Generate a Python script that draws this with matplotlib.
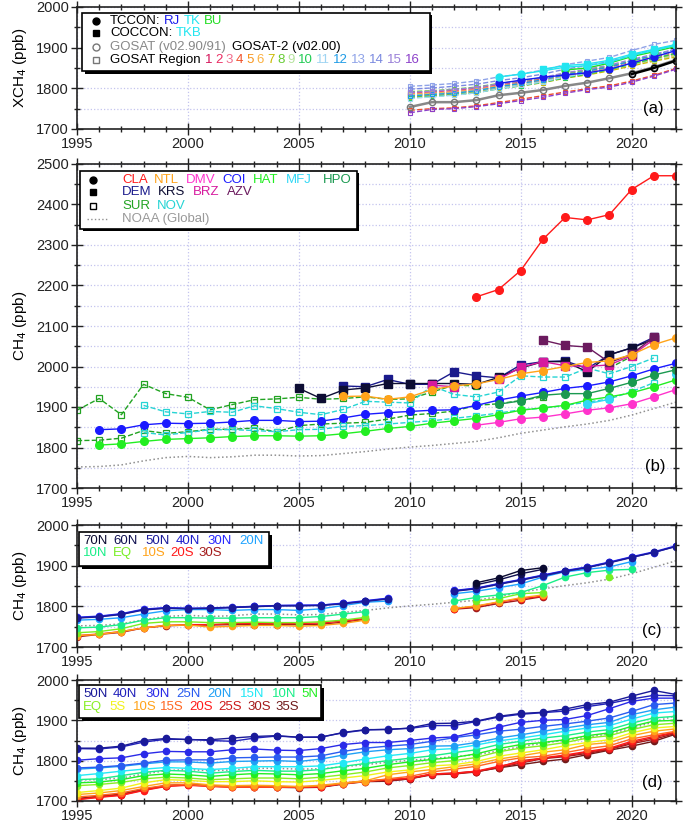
import numpy as np
import matplotlib
matplotlib.use("Agg")
import matplotlib.pyplot as plt
from matplotlib.patches import Rectangle
from matplotlib.lines import Line2D
from matplotlib.ticker import MultipleLocator

plt.rcParams['font.family'] = ['Liberation Sans', 'DejaVu Sans']

n = np.nan
years = np.arange(1995, 2023)
years_a = np.arange(2010, 2023)

# ---------------- panel (a): XCH4 ----------------
gosat   = [1754, 1766, 1766, 1771, 1783, 1789, 1796, 1806, 1814, 1825, 1837, 1852, 1870]
gosat2  = [n, n, n, n, n, n, n, n, n, n, 1835, 1850, 1868]
tc_rj   = [n, n, n, n, 1812, 1820, 1827, 1833, 1838, 1847, 1862, 1877, 1893]
tc_tk   = [n, n, n, n, 1828, 1835, 1843, 1852, 1856, 1864, 1881, 1893, 1906]
tc_bu   = [n, n, n, n, n, n, n, 1845, 1850, 1862, 1878, 1890, 1903]
co_tkb  = [n, n, n, n, n, n, 1847, 1856, 1860, 1869, 1884, 1896, 1908]

reg_vals = [
    [1784, 1787, 1790, 1795, 1805, 1811, 1819, 1830, 1838, 1848, 1860, 1872, 1884],
    [1789, 1791, 1795, 1800, 1809, 1815, 1823, 1834, 1842, 1852, 1864, 1877, 1888],
    [1786, 1789, 1792, 1798, 1807, 1813, 1821, 1832, 1840, 1850, 1862, 1875, 1886],
    [1746, 1750, 1752, 1757, 1765, 1773, 1782, 1791, 1799, 1806, 1818, 1832, 1849],
    [1781, 1784, 1788, 1792, 1802, 1808, 1816, 1827, 1835, 1845, 1857, 1869, 1880],
    [1785, 1788, 1791, 1796, 1806, 1812, 1820, 1831, 1839, 1849, 1861, 1873, 1883],
    [1779, 1782, 1786, 1790, 1800, 1806, 1814, 1825, 1833, 1843, 1855, 1867, 1877],
    [1792, 1794, 1798, 1803, 1812, 1818, 1826, 1837, 1845, 1855, 1867, 1880, 1891],
    [1783, 1786, 1789, 1794, 1803, 1809, 1817, 1828, 1836, 1846, 1858, 1870, 1881],
    [1777, 1780, 1784, 1789, 1799, 1806, 1815, 1826, 1835, 1846, 1860, 1873, 1886],
    [1775, 1779, 1783, 1789, 1799, 1807, 1816, 1828, 1837, 1848, 1863, 1877, 1891],
    [1781, 1785, 1788, 1794, 1804, 1812, 1821, 1833, 1842, 1853, 1868, 1882, 1896],
    [1805, 1808, 1812, 1818, 1828, 1835, 1845, 1858, 1867, 1876, 1893, 1908, 1918],
    [1798, 1801, 1805, 1810, 1819, 1826, 1835, 1847, 1856, 1866, 1881, 1895, 1906],
    [1790, 1793, 1797, 1802, 1811, 1818, 1827, 1838, 1847, 1857, 1871, 1884, 1896],
    [1740, 1748, 1750, 1755, 1762, 1770, 1778, 1788, 1797, 1803, 1815, 1830, 1847],
]
reg_names = [str(i) for i in range(1, 17)]
reg_colors = ['#d4145a', '#ec2d63', '#f26c8c', '#f0502a', '#f7941d', '#fbb040',
              '#c9b800', '#66cc33', '#b5e39c', '#22cc55', '#9fd4f2', '#1e9be6',
              '#8fa3e8', '#7b8ae0', '#9a80d8', '#8b3fc9']

# ---------------- panel (b): surface CH4 ----------------
noaa = [1752, 1753, 1757, 1767, 1775, 1778, 1775, 1777, 1781, 1781, 1779, 1780, 1785, 1790,
        1796, 1801, 1805, 1810, 1815, 1824, 1835, 1843, 1851, 1858, 1867, 1880, 1896, 1912]

b_circle = {
    'CLA': [n]*18 + [2172, 2190, 2237, 2314, 2368, 2362, 2375, 2437, 2471, 2471],
    'NTL': [n]*12 + [1926, 1927, 1919, 1925, 1943, 1952, 1957, 1968, 1982, 1990, 2000, 2010,
                     2014, 2029, 2054, 2071],
    'DMV': [n]*18 + [1855, 1862, 1871, 1875, 1883, 1892, 1898, 1908, 1925, 1943],
    'COI': [n, 1844, 1846, 1856, 1860, 1859, 1860, 1863, 1867, 1867, 1864, 1865, 1873, 1882,
            1886, 1889, 1892, 1893, 1904, 1917, 1927, 1936, 1946, 1952, 1962, 1977, 1994, 2008],
    'HAT': [n, 1806, 1809, 1815, 1820, 1822, 1824, 1827, 1829, 1829, 1828, 1829, 1834, 1840,
            1847, 1852, 1860, 1866, 1872, 1881, 1892, 1898, 1904, 1917, 1925, 1935, 1950, 1967],
    'MFJ': [n]*23 + [1908, 1919, n, n, 1981],
    'HPO': [n]*19 + [1907, 1915, 1929, 1933, 1933, 1946, 1961, 1979, 1992],
}
b_square = {
    'DEM': [n]*12 + [1952, 1950, 1968, 1956, 1956, 1987, 1977, 1972, 2004, 2012, 2014, 1995,
                     2029, 2046, 2072, n],
    'KRS': [n]*10 + [1946, 1921, 1942, 1947, 1958, 1958, 1958, 1958, 1956, 1973, 1996, 2012,
                     2012, 1987, 2029, 2046, 2067, n],
    'BRZ': [n]*16 + [1954, 1950, n, 1968, 1998, 2012, 2002, 2000, 2004, 2027, 2067, n],
    'AZV': [n]*21 + [2065, 2052, 2048, 2010, 2030, 2073, n],
}
b_open = {
    'SUR': [1892, 1921, 1881, 1956, 1933, 1924, 1893, 1906, 1918, 1920, 1924, 1919, 1921, 1925,
            1919, 1920, 1937, 1954, 1952, n, n, n, n, n, 1996, 2025, n, n],
    'SUR_low': [1817, 1818, 1823, 1842, 1835, 1839, 1845, 1845, 1848, 1839, 1854, 1858, 1860,
                1862, 1870, 1880, 1884, 1890, 1904, 1908, 1916, 1925, n, n, n, n, n, n],
    'NOV': [n, n, n, 1904, 1888, 1883, 1889, 1887, 1903, 1896, 1887, 1881, 1894, 1914, 1912,
            1910, 1952, 1931, 1925, 1937, 1977, 1974, 1974, 1996, 1982, 2000, 2021, n],
    'NOV_low': [n, n, n, 1837, 1831, 1837, 1844, 1844, 1842, 1839, 1844, 1845, 1852, 1854,
                1858, 1862, 1866, 1872, 1878, 1885, 1893, 1897, 1904, 1912, 1920, 1938, 1960, n],
}
b_colors = {'CLA': '#ff1a1a', 'NTL': '#ffa31a', 'DMV': '#ff33cc', 'COI': '#1a1aff',
            'HAT': '#22ee22', 'MFJ': '#33d8f5', 'HPO': '#1a9950', 'DEM': '#1a1a8c',
            'KRS': '#0d0d33', 'BRZ': '#d61a9e', 'AZV': '#6b1a5e', 'SUR': '#22a322',
            'SUR_low': '#22a322', 'NOV': '#26d4d4', 'NOV_low': '#26d4d4'}

# ---------------- panel (c): zonal means (10 deg bands) ----------------
c_names = ['70N', '60N', '50N', '40N', '30N', '20N', '10N', 'EQ', '10S', '20S', '30S']
c_colors = ['#0a0a30', '#101050', '#1a1a99', '#1f1fcc', '#2828ff', '#1fa3ff',
            '#1aee88', '#77ee22', '#ffa31a', '#ff1a1a', '#a31a1a']
c_vals = [
    [n]*18 + [1858, 1870, 1888, 1895, n, n, n, n, n, n],
    [n]*18 + [1853, 1865, 1880, 1891, n, n, n, n, n, n],
    [1771, 1774, 1780, 1791, 1795, 1794, 1795, 1797, 1799, 1801, 1801, 1802, 1806, 1812, 1818,
     n, n, 1837, 1843, 1854, 1864, 1875, 1886, 1895, 1907, 1920, 1933, 1947],
    [1772, 1775, 1781, 1792, 1796, 1795, 1796, 1798, 1800, 1802, 1802, 1803, 1807, 1813, 1819,
     n, n, 1838, 1844, 1855, 1865, 1876, 1887, 1896, 1908, 1921, 1932, 1948],
    [1773, 1776, 1782, 1793, 1797, 1795, 1795, 1797, 1800, 1802, 1803, 1803, 1808, 1814, 1820,
     n, n, 1839, 1845, 1856, 1866, 1877, 1888, 1897, 1909, 1922, 1934, 1949],
    [1766, 1768, 1772, 1781, 1789, 1792, 1792, 1790, 1792, 1792, 1790, 1794, 1802, 1810, 1813,
     n, n, 1831, 1837, 1846, 1855, 1872, 1885, 1891, 1897, 1910, n, n],
    [1747, 1749, 1755, 1766, 1772, 1772, 1771, 1771, 1772, 1772, 1772, 1775, 1781, 1787, n,
     n, n, 1813, 1822, 1828, 1834, 1851, 1872, 1883, 1889, 1891, n, n],
    [1735, 1738, 1745, 1758, 1762, 1762, 1760, 1760, 1761, 1760, 1760, 1762, 1766, 1773, n,
     n, n, n, 1813, 1819, 1831, 1834, n, n, 1872, n, n, n],
    [1728, 1731, 1738, 1747, 1753, 1754, 1749, 1751, 1753, 1753, 1751, 1753, 1758, 1766, n,
     n, n, 1795, 1801, 1811, 1821, 1828, n, n, n, n, n, n],
    [1728, 1732, 1738, 1747, 1753, 1755, 1755, 1758, 1758, 1758, 1758, 1759, 1764, 1770, n,
     n, n, 1794, 1800, 1810, 1819, 1825, n, n, n, n, n, n],
    [1725, 1731, 1736, 1747, 1752, 1754, 1754, 1755, 1755, 1755, 1755, 1756, 1761, 1768, n,
     n, n, 1793, 1797, 1807, 1815, 1824, n, n, n, n, n, n],
]

# ---------------- panel (d): zonal means (5 deg bands) ----------------
d_names = ['50N', '40N', '30N', '25N', '20N', '15N', '10N', '5N',
           'EQ', '5S', '10S', '15S', '20S', '25S', '30S', '35S']
d_colors = ['#1a1a99', '#2222bb', '#2a2ae8', '#2a5cf0', '#20a0f5', '#22e8f5', '#1aee88',
            '#22ee22', '#88ee22', '#f2f21a', '#ffa31a', '#ff6622', '#ff1a1a', '#cc1a1a',
            '#a31a1a', '#701a1a']
d_vals = [
    [1831, 1831, 1836, 1850, 1855, 1852, 1852, 1856, 1860, 1862, 1858, 1858, 1870, 1877,
     1877, 1881, 1892, 1893, 1898, 1910, 1917, 1920, 1928, 1939, 1945, 1960, 1974, 1964],
    [1830, 1829, 1834, 1846, 1853, 1853, 1850, 1848, 1856, 1861, 1858, 1859, 1869, 1876,
     1878, 1880, 1887, 1887, 1897, 1908, 1915, 1919, 1923, 1934, 1942, 1953, 1962, 1961],
    [1801, 1805, 1807, 1817, 1823, 1822, 1822, 1827, 1829, 1826, 1825, 1830, 1840, 1845,
     1845, 1850, 1856, 1859, 1871, 1883, 1895, 1900, 1902, 1912, 1929, 1947, 1955, 1955],
    [1782, 1784, 1788, 1794, 1801, 1802, 1802, 1807, 1808, 1809, 1809, 1812, 1823, 1831,
     1836, 1840, 1848, 1857, 1864, 1873, 1878, 1885, 1891, 1898, 1906, 1922, 1939, 1943],
    [1779, 1782, 1786, 1792, 1797, 1797, 1794, 1798, 1799, 1800, 1798, 1804, 1814, 1822,
     1827, 1830, 1836, 1837, 1845, 1856, 1864, 1873, 1881, 1889, 1895, 1914, 1926, 1933],
    [1763, 1768, 1774, 1779, 1783, 1781, 1778, 1781, 1785, 1785, 1785, 1787, 1795, 1804,
     1812, 1818, 1827, 1830, 1839, 1849, 1856, 1864, 1873, 1881, 1887, 1903, 1918, 1922],
    [1753, 1755, 1763, 1771, 1776, 1774, 1769, 1773, 1776, 1774, 1774, 1778, 1786, 1793,
     1800, 1806, 1812, 1820, 1827, 1840, 1848, 1856, 1862, 1871, 1877, 1893, 1906, 1910],
    [1745, 1747, 1753, 1763, 1767, 1765, 1761, 1765, 1768, 1767, 1765, 1768, 1775, 1781,
     1790, 1797, 1803, 1808, 1817, 1830, 1840, 1845, 1852, 1862, 1869, 1885, 1898, 1900],
    [1738, 1741, 1746, 1755, 1759, 1757, 1753, 1755, 1757, 1757, 1755, 1759, 1765, 1772,
     1782, 1788, 1795, 1800, 1808, 1822, 1831, 1837, 1845, 1856, 1862, 1877, 1889, 1893],
    [1721, 1726, 1732, 1745, 1753, 1751, 1748, 1748, 1750, 1748, 1747, 1751, 1757, 1763,
     1772, 1777, 1787, 1790, 1798, 1811, 1819, 1827, 1837, 1845, 1852, 1869, 1881, 1885],
    [1716, 1720, 1726, 1736, 1745, 1745, 1740, 1738, 1739, 1738, 1736, 1739, 1745, 1750,
     1765, 1772, 1778, 1785, 1792, 1804, 1812, 1821, 1827, 1840, 1845, 1862, 1873, 1879],
    [1710, 1714, 1720, 1731, 1739, 1741, 1737, 1735, 1735, 1735, 1735, 1737, 1743, 1748,
     1755, 1761, 1772, 1779, 1786, 1798, 1807, 1811, 1820, 1830, 1837, 1854, 1864, 1873],
    [1703, 1709, 1714, 1726, 1736, 1739, 1736, 1734, 1734, 1734, 1734, 1735, 1743, 1749,
     1753, 1757, 1767, 1769, 1774, 1786, 1796, 1807, 1814, 1823, 1831, 1848, 1860, 1871],
    [1704, 1710, 1715, 1727, 1737, 1740, 1737, 1735, 1735, 1735, 1735, 1736, 1744, 1750,
     1752, 1756, 1766, 1768, 1773, 1784, 1800, 1806, 1812, 1821, 1829, 1845, 1857, 1870],
    [1705, 1711, 1716, 1728, 1738, 1741, 1738, 1736, 1736, 1735, 1734, 1735, 1743, 1749,
     1750, 1755, 1765, 1767, 1772, 1783, 1794, 1805, 1810, 1818, 1828, 1842, 1853, 1868],
    [1706, 1712, 1717, 1729, 1738, 1741, 1738, 1736, 1735, 1734, 1733, 1734, 1742, 1748,
     1749, 1755, 1767, 1769, 1773, 1782, 1790, 1798, 1804, 1815, 1826, 1836, 1848, 1866],
]

# ---------------- figure ----------------
W, H = 685, 825
fig = plt.figure(figsize=(W / 100, H / 100), dpi=100)
grid_col = '#c4c4ee'


def make_axes(top, bottom):
    return fig.add_axes([77 / W, 1 - bottom / H, 599 / W, (bottom - top) / H])


def style(ax, ylo, yhi, ylab):
    ax.set_xlim(1995, 2022)
    ax.set_ylim(ylo, yhi)
    ax.xaxis.set_major_locator(MultipleLocator(5))
    ax.xaxis.set_minor_locator(MultipleLocator(1))
    ax.yaxis.set_major_locator(MultipleLocator(100))
    ax.yaxis.set_minor_locator(MultipleLocator(50))
    ax.tick_params(which='both', direction='inout', top=True, right=True,
                   labelsize=10.5, width=1.0, colors='#222222', pad=2)
    ax.tick_params(which='major', length=8)
    ax.tick_params(which='minor', length=5)
    ax.grid(which='major', axis='x', ls=':', color=grid_col, lw=0.9)
    ax.grid(which='both', axis='y', ls=':', color=grid_col, lw=0.9)
    ax.set_axisbelow(True)
    for s in ax.spines.values():
        s.set_linewidth(1.2)
        s.set_color('#222222')
    ax.set_ylabel(ylab, fontsize=11)
    ax.yaxis.set_label_coords(-0.08, 0.5)


def box(x0, y0, x1, y1):
    fig.add_artist(Rectangle(((x0 + 2.5) / W, 1 - (y1 + 2.5) / H), (x1 - x0) / W,
                             (y1 - y0) / H, transform=fig.transFigure,
                             fc='black', lw=0, zorder=1))
    fig.add_artist(Rectangle((x0 / W, 1 - y1 / H), (x1 - x0) / W, (y1 - y0) / H,
                             transform=fig.transFigure, fc='white', ec='black',
                             lw=1.2, zorder=1.5))


def mark(x, y, **kw):
    fig.add_artist(Line2D([x / W], [1 - y / H], transform=fig.transFigure, **kw))


def label(x, y, s, c, size=9.5):
    return fig.text(x / W, 1 - y / H, s, color=c, fontsize=size, va='center', ha='left',
                    zorder=3)


def words(x, y, parts, gap=3.5, size=9.5):
    r = fig.canvas.get_renderer()
    for s, c in parts:
        t = label(x, y, s, c, size)
        x = t.get_window_extent(renderer=r).x1 + gap
    return x


# ---- (a)
ax = make_axes(7, 129)
style(ax, 1700, 2000, 'XCH$_4$ (ppb)')
for v, c in zip(reg_vals, reg_colors):
    ax.plot(years_a, v, ls='--', lw=1, color=c, marker='s', ms=3.5, mfc='none', mec=c, mew=0.8)
ax.plot(years_a, gosat, '-o', color='#888888', lw=1.8, ms=4.5, mfc='none', mec='#777777')
ax.plot(years_a, gosat2, '-o', color='black', lw=1.8, ms=4.5, mfc='none', mec='black')
ax.plot(years_a, tc_bu, '-o', color='#22dd22', lw=1, ms=5, mec='#22dd22')
ax.plot(years_a, tc_rj, '-o', color='#1a1aee', lw=1, ms=5, mec='#1a1aee')
ax.plot(years_a, co_tkb, '-s', color='#22e5f0', lw=1, ms=5, mec='#22e5f0')
ax.plot(years_a, tc_tk, '-o', color='#22e5f0', lw=1, ms=5, mec='#22e5f0')
ax.text(653, 109, '(a)', transform=None, fontsize=12, ha='center', va='center')
ax.texts[-1].set_transform(fig.transFigure)
ax.texts[-1].set_position((653 / W, 1 - 109 / H))

box(82, 13, 430, 71)
mark(96, 21, marker='o', ms=5, color='black', ls='none')
mark(96, 33, marker='s', ms=5, color='black', ls='none')
mark(96, 47, marker='o', ms=5, mfc='none', mec='#777777', ls='none')
mark(96, 60, marker='s', ms=5, mfc='none', mec='#777777', ls='none')
words(110, 21, [('TCCON:', 'black'), ('RJ', '#1a1aee'), ('TK', '#22e5f0'), ('BU', '#22dd22')])
words(110, 33, [('COCCON:', 'black'), ('TKB', '#22e5f0')])
words(110, 47, [('GOSAT (v02.90/91)', '#888888'), ('GOSAT-2 (v02.00)', 'black')], gap=6)
xr = words(110, 60, [('GOSAT Region', 'black')], gap=4)
words(xr, 60, list(zip(reg_names, reg_colors)), gap=3)

# ---- (b)
ax = make_axes(164, 488)
style(ax, 1700, 2500, 'CH$_4$ (ppb)')
ax.plot(years, noaa, ':', color='#909090', lw=1.1)
for k, v in b_open.items():
    c = b_colors[k]
    ax.plot(years, v, ls='--', lw=1, color=c, marker='s', ms=4, mfc='none', mec=c, mew=0.9)
for k, v in b_square.items():
    c = b_colors[k]
    ax.plot(years, v, '-s', color=c, lw=1, ms=5.5, mec=c)
for k, v in b_circle.items():
    c = b_colors[k]
    ax.plot(years, v, '-o', color=c, lw=1, ms=5.5, mec=c)
fig.text(655 / W, 1 - 467 / H, '(b)', fontsize=12, ha='center', va='center')

box(80, 171, 357, 229)
mark(93, 180, marker='o', ms=5, color='black', ls='none')
mark(93, 192, marker='s', ms=5, color='black', ls='none')
mark(93, 206, marker='s', ms=5, mfc='none', mec='black', ls='none')
fig.add_artist(Line2D([87 / W, 107 / W], [1 - 219 / H] * 2, transform=fig.transFigure,
                      ls=':', color='#909090', lw=1))
for nm, xx in zip(['CLA', 'NTL', 'DMV', 'COI', 'HAT', 'MFJ', 'HPO'],
                  [122, 154, 186, 222, 253, 286, 323]):
    label(xx, 180, nm, b_colors[nm])
for nm, xx in zip(['DEM', 'KRS', 'BRZ', 'AZV'], [122, 158, 193, 227]):
    label(xx, 192, nm, b_colors[nm])
for nm, xx in zip(['SUR', 'NOV'], [122, 157]):
    label(xx, 206, nm, b_colors[nm])
label(122, 219, 'NOAA (Global)', '#999999')

# ---- (c)
ax = make_axes(525, 647)
style(ax, 1700, 2000, 'CH$_4$ (ppb)')
ax.plot(years, noaa, ':', color='#909090', lw=1.1)
for v, c in zip(c_vals[::-1], c_colors[::-1]):
    ax.plot(years, v, '-o', color=c, lw=1, ms=4.5, mec=c)
fig.text(652 / W, 1 - 630 / H, '(c)', fontsize=12, ha='center', va='center')

box(79, 532, 269, 566)
for nm, c, xx in zip(c_names[:6], c_colors[:6], [83, 113, 145, 176, 207, 239]):
    label(xx, 541, nm, c)
for nm, c, xx in zip(c_names[6:], c_colors[6:], [83, 113, 142, 170, 198]):
    label(xx, 553, nm, c)

# ---- (d)
ax = make_axes(680, 801)
style(ax, 1700, 2000, 'CH$_4$ (ppb)')
ax.plot(years, noaa, ':', color='#909090', lw=1.1)
for v, c in zip(d_vals[::-1], d_colors[::-1]):
    ax.plot(years, v, '-o', color=c, lw=1, ms=4.5, mec=c)
fig.text(652 / W, 1 - 783 / H, '(d)', fontsize=12, ha='center', va='center')

box(79, 685, 321, 718)
for nm, c, xx in zip(d_names[:8], d_colors[:8], [83, 113, 145, 176, 207, 240, 272, 301]):
    label(xx, 694, nm, c)
for nm, c, xx in zip(d_names[8:], d_colors[8:], [83, 109, 133, 160, 189, 218, 247, 275]):
    label(xx, 707, nm, c)

fig.savefig('out.png', dpi=100)
